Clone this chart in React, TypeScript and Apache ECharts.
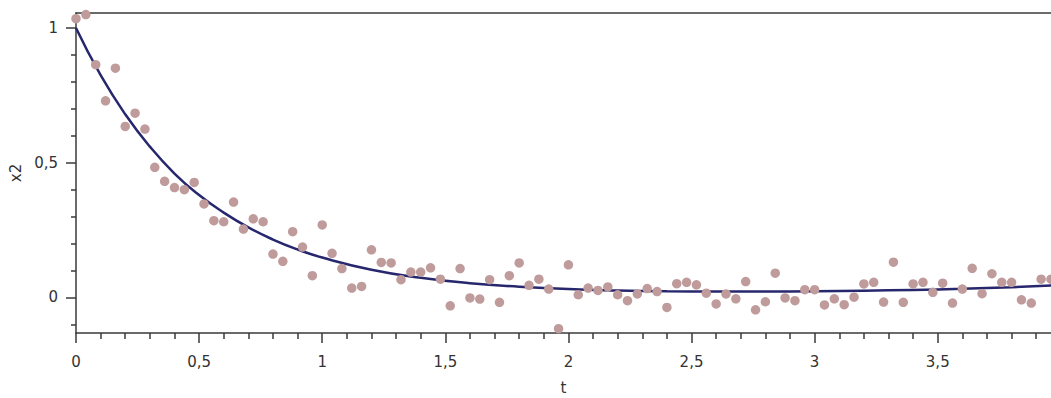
import React, { useEffect, useRef } from "react";
import * as echarts from "echarts";

// Observed samples (t, x2)
const tValues = [
  0, 0.04, 0.08, 0.12, 0.16, 0.2, 0.24, 0.28, 0.32, 0.36,
  0.4, 0.44, 0.48, 0.52, 0.56, 0.6, 0.64, 0.68, 0.72, 0.76,
  0.8, 0.84, 0.88, 0.92, 0.96, 1.0, 1.04, 1.08, 1.12, 1.16,
  1.2, 1.24, 1.28, 1.32, 1.36, 1.4, 1.44, 1.48, 1.52, 1.56,
  1.6, 1.64, 1.68, 1.72, 1.76, 1.8, 1.84, 1.88, 1.92, 1.96,
  2.0, 2.04, 2.08, 2.12, 2.16, 2.2, 2.24, 2.28, 2.32, 2.36,
  2.4, 2.44, 2.48, 2.52, 2.56, 2.6, 2.64, 2.68, 2.72, 2.76,
  2.8, 2.84, 2.88, 2.92, 2.96, 3.0, 3.04, 3.08, 3.12, 3.16,
  3.2, 3.24, 3.28, 3.32, 3.36, 3.4, 3.44, 3.48, 3.52, 3.56,
  3.6, 3.64, 3.68, 3.72, 3.76, 3.8, 3.84, 3.88, 3.92, 3.96,
];
const x2Values = [
  1.035, 1.05, 0.864, 0.73, 0.851, 0.635, 0.684, 0.625, 0.483, 0.431,
  0.408, 0.4, 0.427, 0.347, 0.285, 0.281, 0.354, 0.254, 0.292, 0.281,
  0.161, 0.134, 0.244, 0.187, 0.081, 0.269, 0.164, 0.107, 0.035, 0.041,
  0.177, 0.13, 0.128, 0.066, 0.094, 0.094, 0.11, 0.068, -0.031, 0.107,
  -0.002, -0.006, 0.066, -0.018, 0.081, 0.128, 0.045, 0.068, 0.031, -0.116,
  0.121, 0.01, 0.035, 0.026, 0.039, 0.01, -0.012, 0.013, 0.033, 0.022,
  -0.037, 0.051, 0.056, 0.047, 0.016, -0.024, 0.013, -0.005, 0.059, -0.046,
  -0.016, 0.09, -0.002, -0.012, 0.029, 0.029, -0.028, -0.005, -0.027, 0.001,
  0.05, 0.056, -0.017, 0.131, -0.018, 0.05, 0.056, 0.019, 0.053, -0.021,
  0.031, 0.108, 0.014, 0.088, 0.056, 0.056, -0.009, -0.021, 0.068, 0.068,
];

// Fitted curve
const fitT = [
  0, 0.1, 0.2, 0.3, 0.4, 0.5, 0.6, 0.7, 0.8, 0.9, 1.0,
  1.2, 1.4, 1.6, 1.8, 2.0, 2.2, 2.4, 2.6, 2.8, 3.0, 3.2, 3.4, 3.6, 3.8, 3.96,
];
const fitValues = [
  1.0, 0.825, 0.68, 0.56, 0.46, 0.38, 0.315, 0.26, 0.215, 0.178, 0.148,
  0.103, 0.073, 0.053, 0.04, 0.031, 0.026, 0.023, 0.022, 0.022, 0.023, 0.025, 0.028, 0.032, 0.038, 0.044,
];

// Ticks
const xMajorTicks = [0, 0.5, 1, 1.5, 2, 2.5, 3, 3.5];
const xMinorTicks = [
  0.1, 0.2, 0.3, 0.4, 0.6, 0.7, 0.8, 0.9, 1.1, 1.2, 1.3, 1.4, 1.6, 1.7, 1.8, 1.9,
  2.1, 2.2, 2.3, 2.4, 2.6, 2.7, 2.8, 2.9, 3.1, 3.2, 3.3, 3.4, 3.6, 3.7, 3.8, 3.9,
];
const yMajorTicks = [0, 0.5, 1];
const yMinorTicks = [-0.1, 0.1, 0.2, 0.3, 0.4, 0.6, 0.7, 0.8, 0.9];

const xTitle = "t";
const yTitle = "x2";

export default function App() {
  const ref = useRef<HTMLDivElement>(null);

  useEffect(() => {
    const chart = echarts.init(ref.current!, null, { renderer: "svg" });
    const fmt = (v: number) => String(v).replace(".", ",");
    const axisColor = "#3a3a3a";
    const font = { color: "#333333", fontFamily: "DejaVu Sans", fontSize: 15 };
    const xMin = 0, xMax = 3.96, yMin = -0.132, yMax = 1.056;
    const lineStyle = { color: axisColor, width: 1.5 };

    chart.setOption({
      animation: false,
      grid: { left: 76, right: 0, top: 13, bottom: 65, containLabel: false, outerBoundsMode: "none" },
      xAxis: [
        {
          type: "value", min: xMin, max: xMax, position: "bottom",
          name: xTitle, nameLocation: "middle", nameGap: 47, nameTextStyle: font,
          axisLine: { onZero: false, lineStyle },
          axisTick: { show: true, length: 10, customValues: xMajorTicks, lineStyle },
          axisLabel: { customValues: xMajorTicks, formatter: fmt, margin: 21, ...font },
          splitLine: { show: false },
        },
        {
          type: "value", min: xMin, max: xMax, position: "bottom",
          axisLine: { show: false, onZero: false },
          axisTick: { show: true, length: 6, customValues: xMinorTicks, lineStyle },
          axisLabel: { show: false },
          splitLine: { show: false },
        },
        {
          type: "value", min: xMin, max: xMax, position: "top",
          axisLine: { onZero: false, lineStyle },
          axisTick: { show: false },
          axisLabel: { show: false },
          splitLine: { show: false },
        },
      ],
      yAxis: [
        {
          type: "value", min: yMin, max: yMax, position: "left",
          name: yTitle, nameLocation: "middle", nameRotate: 90, nameGap: 48, nameTextStyle: font,
          axisLine: { show: true, onZero: false, lineStyle },
          axisTick: { show: true, length: 10, customValues: yMajorTicks, lineStyle },
          axisLabel: { customValues: yMajorTicks, formatter: fmt, margin: 18, ...font },
          splitLine: { show: false },
        },
        {
          type: "value", min: yMin, max: yMax, position: "left",
          axisLine: { show: false, onZero: false },
          axisTick: { show: true, length: 5, customValues: yMinorTicks, lineStyle },
          axisLabel: { show: false },
          splitLine: { show: false },
        },
      ],
      series: [
        {
          type: "line", xAxisIndex: 0, yAxisIndex: 0,
          data: fitT.map((t, i) => [t, fitValues[i]]),
          smooth: true, showSymbol: false, symbol: "none",
          lineStyle: { color: "#27276e", width: 2.5 },
          z: 2,
        },
        {
          type: "scatter", xAxisIndex: 0, yAxisIndex: 0,
          data: tValues.map((t, i) => [t, x2Values[i]]),
          symbolSize: 9.5,
          itemStyle: { color: "#bf9b9b", opacity: 1 },
          z: 3,
        },
      ],
    });
    return () => chart.dispose();
  }, []);

  return (
    <div
      ref={ref}
      style={{ position: "absolute", left: 0, top: 0, width: 1051, height: 398, background: "#ffffff" }}
    />
  );
}
